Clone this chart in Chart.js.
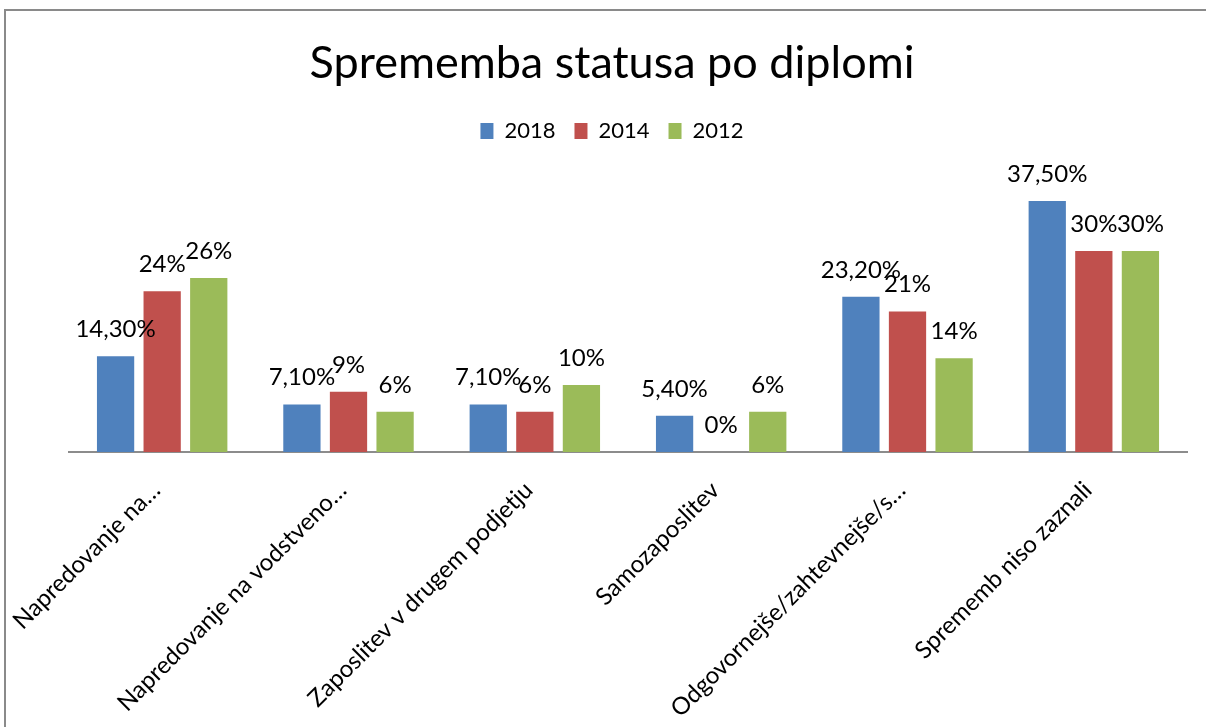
<!DOCTYPE html>
<html>
<head>
<meta charset="utf-8">
<script src="https://cdn.jsdelivr.net/npm/chart.js@4.4.1/dist/chart.umd.min.js"></script>
<style>
  html, body { margin: 0; padding: 0; background: #ffffff; overflow: hidden; }
  #frame { position: absolute; left: 4px; top: 9px; width: 1230px; height: 740px; border: 2px solid #8a8a8a; box-sizing: border-box; }
  #wrap { position: absolute; left: 0; top: 0; width: 1206px; height: 727px; }
</style>
</head>
<body>
<div id="frame"></div>
<div id="wrap"><canvas id="c" width="1206" height="727"></canvas></div>
<script>
const chartTitle = "Sprememba statusa po diplomi";
const categories = [
  "Napredovanje na…",
  "Napredovanje na vodstveno…",
  "Zaposlitev v drugem podjetju",
  "Samozaposlitev",
  "Odgovornejše/zahtevnejše/s…",
  "Sprememb niso zaznali"
];
const seriesNames = ["2018", "2014", "2012"];
const values2018 = [14.3, 7.1, 7.1, 5.4, 23.2, 37.5];
const values2014 = [24, 9, 6, 0, 21, 30];
const values2012 = [26, 6, 10, 6, 14, 30];
const labelDecimals = [2, 0, 0];
const colors = ["#4F81BD", "#C0504D", "#9BBB59"];

const FONT = "Lato, 'Open Sans', sans-serif";

const dataLabels = {
  id: 'dataLabels',
  afterDatasetsDraw(chart) {
    const ctx = chart.ctx;
    ctx.save();
    ctx.font = "24px " + FONT;
    ctx.fillStyle = "#000";
    ctx.textAlign = "center";
    ctx.textBaseline = "alphabetic";
    chart.data.datasets.forEach((ds, i) => {
      const meta = chart.getDatasetMeta(i);
      meta.data.forEach((bar, j) => {
        const v = ds.data[j];
        const txt = v.toFixed(labelDecimals[i]).replace('.', ',') + '%';
        ctx.fillText(txt, bar.x, bar.y - 19);
      });
    });
    ctx.restore();
  }
};

new Chart(document.getElementById('c'), {
  type: 'bar',
  data: {
    labels: categories,
    datasets: [
      { label: seriesNames[0], data: values2018, backgroundColor: colors[0] },
      { label: seriesNames[1], data: values2014, backgroundColor: colors[1] },
      { label: seriesNames[2], data: values2012, backgroundColor: colors[2] }
    ]
  },
  options: {
    responsive: false,
    animation: false,
    categoryPercentage: 0.75,
    barPercentage: 0.8,
    layout: { padding: { left: 37, right: 19, top: 0, bottom: 0 } },
    plugins: {
      title: {
        display: true,
        text: chartTitle,
        color: "#000",
        font: { family: FONT, size: 45, weight: 'normal', lineHeight: 1.2 },
        padding: { top: 36, bottom: 11 }
      },
      legend: {
        display: true,
        position: 'top',
        labels: {
          color: "#000",
          font: { family: FONT, size: 22 },
          boxWidth: 13,
          boxHeight: 16,
          padding: 19
        }
      },
      tooltip: { enabled: false }
    },
    scales: {
      x: {
        grid: { display: false, drawTicks: false },
        border: { display: true, color: "#8c8c8c", width: 2 },
        ticks: {
          color: "#000",
          font: { family: FONT, size: 24 },
          minRotation: 45,
          maxRotation: 45,
          autoSkip: false,
          padding: 24,
          labelOffset: -6
        },
        afterFit(scale) {
          scale.height = 275;
          scale.paddingLeft = 0;
          scale.paddingRight = 0;
        }
      },
      y: {
        display: true,
        min: 0,
        max: 44.8,
        grid: { display: false, drawTicks: false },
        border: { display: false },
        ticks: { display: false },
        afterFit(scale) {
          scale.width = 32;
          scale.paddingTop = 0;
          scale.paddingBottom = 0;
        }
      }
    }
  },
  plugins: [dataLabels]
});
</script>
</body>
</html>
